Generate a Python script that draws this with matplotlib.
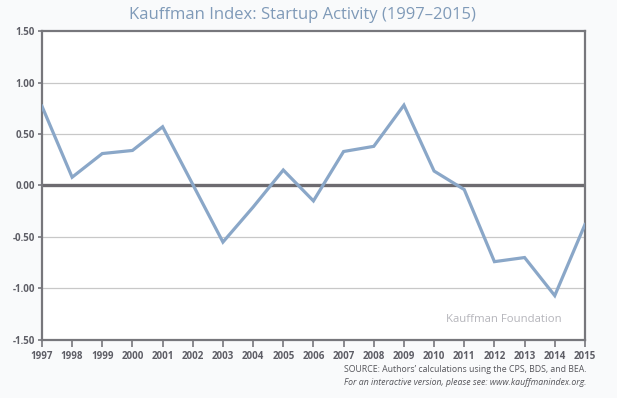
import matplotlib.pyplot as plt
import numpy as np

plt.rcParams['font.family'] = ['Open Sans', 'DejaVu Sans']

years = [1997, 1998, 1999, 2000, 2001, 2002, 2003, 2004, 2005, 2006,
         2007, 2008, 2009, 2010, 2011, 2012, 2013, 2014, 2015]
index = [0.77, 0.08, 0.31, 0.34, 0.57, 0.01, -0.55, -0.21, 0.15, -0.15,
         0.33, 0.38, 0.78, 0.14, -0.04, -0.74, -0.70, -1.07, -0.38]
yticks = [-1.5, -1.0, -0.5, 0.0, 0.5, 1.0, 1.5]

fig = plt.figure(figsize=(6.17, 3.98), dpi=100)
fig.patch.set_facecolor('#f9fafb')
ax = fig.add_axes([0.068, 0.146, 0.880, 0.776])

# grid lines, zero line darker
for y in yticks[1:-1]:
    if y == 0:
        ax.axhline(y, color='#6d6b70', lw=2.4, zorder=2)
    else:
        ax.axhline(y, color='#c8c8c8', lw=0.9, zorder=1)

ax.plot(years, index, color='#8aa7c8', lw=2.3, zorder=3, solid_joinstyle='miter')

ax.set_xlim(1997, 2015)
ax.set_ylim(-1.5, 1.5)
ax.set_xticks(years)
ax.set_xticklabels([str(y) for y in years], fontsize=7, fontweight='bold', color='#5e5e66')
ax.set_yticks(yticks)
ax.set_yticklabels(['%.2f' % y for y in yticks], fontsize=7, fontweight='bold', color='#5e5e66')
ax.tick_params(axis='x', length=5, width=1.2, color='#77777c', pad=3, direction='out')
ax.tick_params(axis='y', length=3, width=1.2, color='#77777c', pad=2, direction='out')
for s in ax.spines.values():
    s.set_color('#77777c')
    s.set_linewidth(1.6)

ax.text(0.851, 0.065, 'Kauffman Foundation', transform=ax.transAxes,
        ha='center', va='center', fontsize=8.2, color='#b5b5bb')

fig.text(0.49, 0.963, 'Kauffman Index: Startup Activity (1997\u20132015)',
         ha='center', va='center', fontsize=12, color='#7f9ab8')
fig.text(0.950, 0.072, 'SOURCE: Authors\u2019 calculations using the CPS, BDS, and BEA.',
         ha='right', va='center', fontsize=6.3, color='#55555a')
fig.text(0.950, 0.038, 'For an interactive version, please see: www.kauffmanindex.org.',
         ha='right', va='center', fontsize=6.3, color='#55555a', style='italic')

fig.savefig('out.png', dpi=100, facecolor=fig.get_facecolor())
